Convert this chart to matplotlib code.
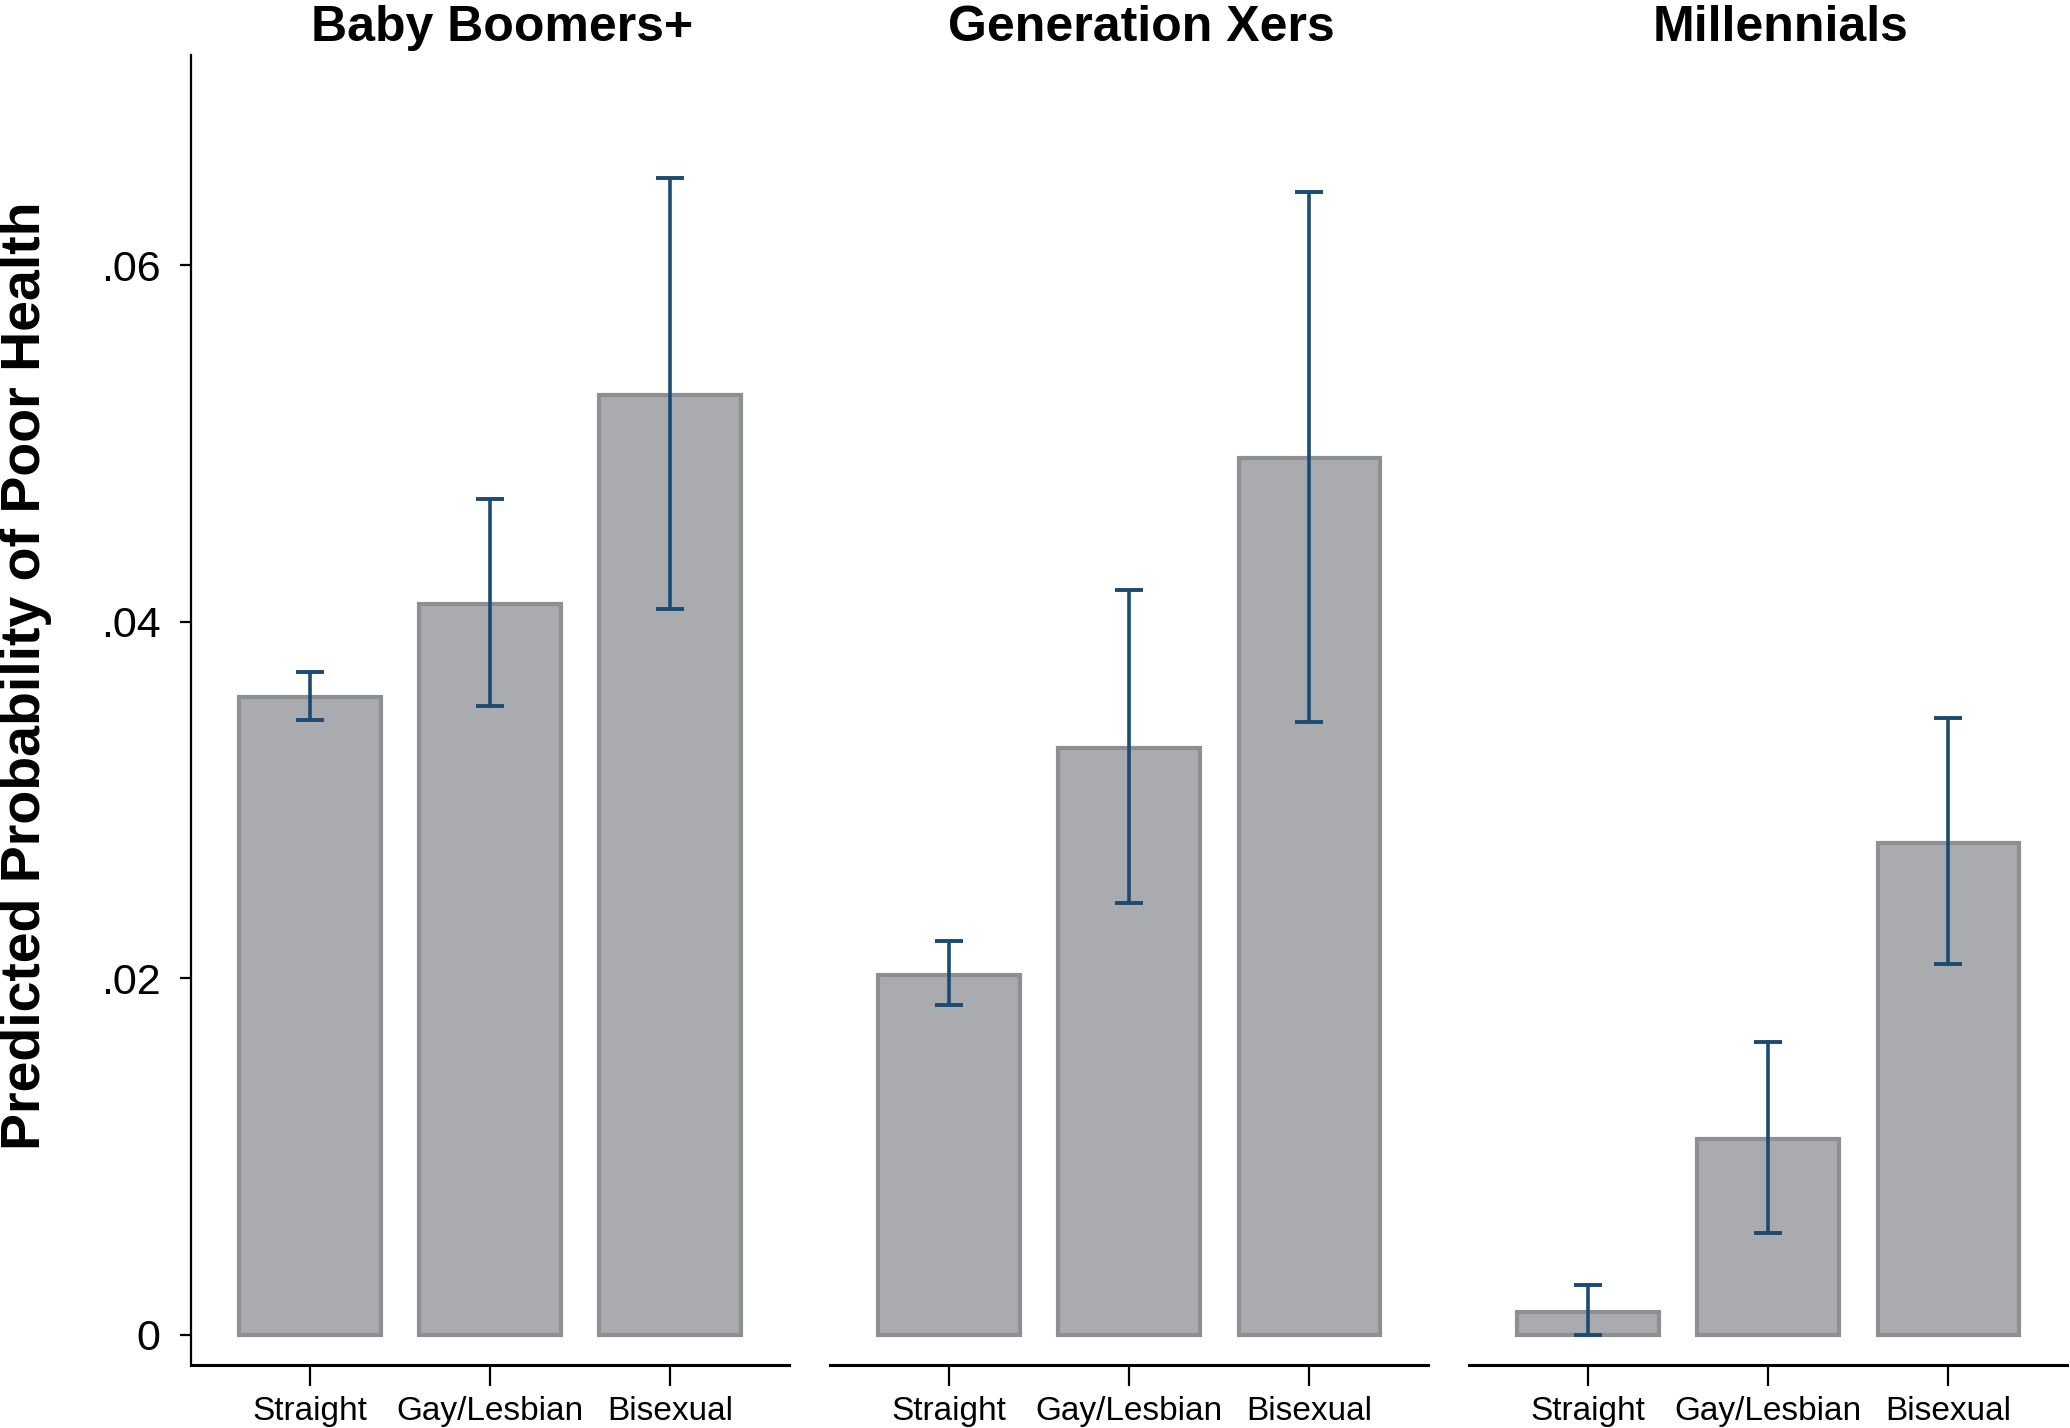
import numpy as np
import matplotlib
matplotlib.use("Agg")
import matplotlib.pyplot as plt

# data
groups = ["Baby Boomers+", "Generation Xers", "Millennials"]
orientations = ["Straight", "Gay/Lesbian", "Bisexual"]
boomers_prob = [0.0358, 0.0410, 0.0527]
boomers_lo = [0.0345, 0.0353, 0.0407]
boomers_hi = [0.0372, 0.0469, 0.0649]
genx_prob = [0.0202, 0.0329, 0.0492]
genx_lo = [0.0185, 0.0242, 0.0344]
genx_hi = [0.0221, 0.0418, 0.0641]
mill_prob = [0.00126, 0.0110, 0.0276]
mill_lo = [0.0000, 0.0057, 0.0208]
mill_hi = [0.0028, 0.0164, 0.0346]
yticks = [0, 0.02, 0.04, 0.06]
ytick_labels = ["0", ".02", ".04", ".06"]

probs = [boomers_prob, genx_prob, mill_prob]
los = [boomers_lo, genx_lo, mill_lo]
his = [boomers_hi, genx_hi, mill_hi]

plt.rcParams["font.family"] = ["Liberation Sans Narrow", "Liberation Sans", "DejaVu Sans"]
BOLD = ["Liberation Sans", "DejaVu Sans"]

BAR_COLOR = "#aaabae"
EDGE_COLOR = "#8e8f92"
ERR_COLOR = "#1b4a73"

fig = plt.figure(figsize=(20.7, 14.28), dpi=100)
lefts = [0.0923, 0.401, 0.7097]
width = 0.2889
bottom = 0.0441
height = 0.9174

x = np.arange(1, 4)
for i, g in enumerate(groups):
    ax = fig.add_axes([lefts[i], bottom, width, height])
    p = np.array(probs[i])
    lo = np.array(los[i])
    hi = np.array(his[i])
    ax.bar(x, p, width=0.785, color=BAR_COLOR, edgecolor=EDGE_COLOR, linewidth=3)
    ax.errorbar(x, p, yerr=[p - lo, hi - p], fmt="none", ecolor=ERR_COLOR,
                elinewidth=2.6, capsize=10, capthick=2.8)
    ax.set_xlim(0.34, 3.66)
    ax.set_ylim(-0.0017, 0.0718)
    ax.set_xticks(x)
    ax.set_xticklabels(orientations, fontsize=24)
    ax.tick_params(axis="x", length=15, width=1.6, pad=7, color="black")
    for s in ["top", "right"]:
        ax.spines[s].set_visible(False)
    ax.spines["bottom"].set_linewidth(2.2)
    if i == 0:
        ax.set_yticks(yticks)
        ax.set_yticklabels(ytick_labels, fontsize=31)
        ax.tick_params(axis="y", length=8, width=1.6, pad=14)
        ax.spines["left"].set_linewidth(1.6)
    else:
        ax.spines["left"].set_visible(False)
        ax.set_yticks([])
    ax.set_title(g, fontsize=36, fontweight="bold", family=BOLD, pad=10, x=0.52)

fig.text(0.0125, 0.527, "Predicted Probability of Poor Health", rotation=90,
         fontsize=40, fontweight="bold", family=BOLD,
         ha="center", va="center")

fig.savefig("out.png", dpi=100)
